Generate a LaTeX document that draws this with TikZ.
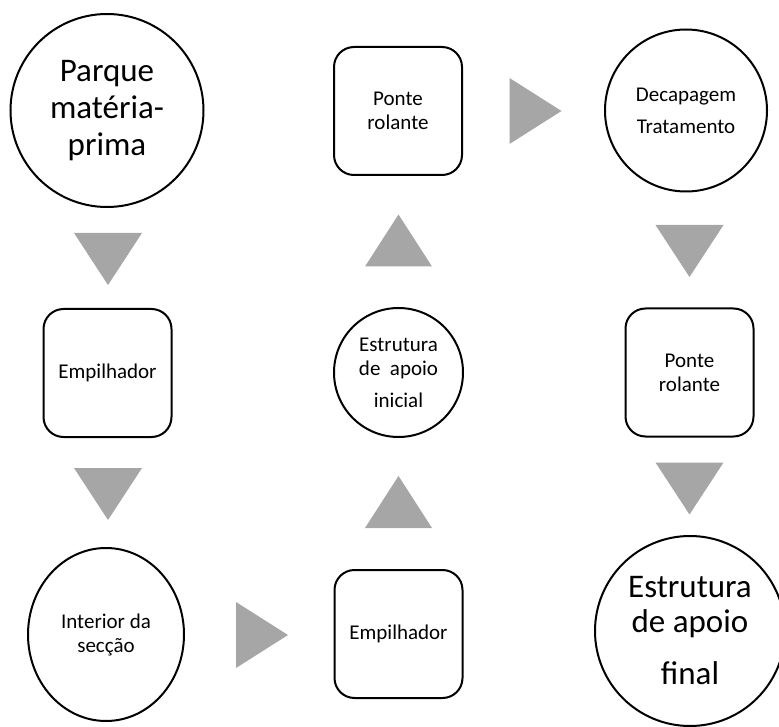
\documentclass[tikz,border=0pt]{standalone}
\usepackage{fontspec}
\setmainfont{Carlito}
\usetikzlibrary{shapes.geometric}
\definecolor{flowgray}{RGB}{166,166,166}
\tikzset{
  downtri/.pic={\fill[flowgray] (-34,-26) -- (34,-26) -- (0,26) -- cycle;},
  uptri/.pic={\fill[flowgray] (-33.5,26) -- (33.5,26) -- (0,-26) -- cycle;},
  righttri/.pic={\fill[flowgray] (-26,-33) -- (-26,33) -- (26,0) -- cycle;}
}
\begin{document}
\begin{tikzpicture}[x=1pt,y=-1pt,
  stage/.style={draw=black,line width=2pt,fill=white,align=center,inner sep=0pt,
    font=\fontsize{21}{24}\selectfont},
  roundstage/.style={stage,circle},
  ovalstage/.style={stage,ellipse},
  boxstage/.style={stage,rectangle,rounded corners=20pt,
    minimum width=128pt,minimum height=128pt},
  bigtext/.style={font=\fontsize{33}{37}\selectfont}]
\useasboundingbox (0,0) rectangle (779,727);

% first column
\node[roundstage,bigtext,minimum size=193pt] (parque) at (107,110.5)
  {Parque\\matéria-\\prima};
\node[boxstage] (emp1) at (107.5,373) {Empilhador};
\node[ovalstage,minimum width=156pt,minimum height=173pt] (interior) at (106,634.5)
  {Interior da\\secção};

% second column
\node[boxstage] (ponte1) at (398,111) {Ponte\\rolante};
\node[roundstage,minimum size=129pt] (inicial) at (398.5,372.5)
  {Estrutura\\de\ \ apoio\\[8pt]inicial};
\node[boxstage] (emp2) at (398.5,634) {Empilhador};

% third column
\node[roundstage,minimum size=162pt] (decap) at (686,110.5)
  {Decapagem\\[8pt]Tratamento};
\node[boxstage] (ponte2) at (689.5,372.5) {Ponte\\rolante};
\node[roundstage,font=\fontsize{33}{35}\selectfont,minimum size=190pt] (final) at (690,631)
  {Estrutura\\de apoio\\[17pt]final};

% flow markers
\pic at (108,259) {downtri};
\pic at (108,494) {downtri};
\pic at (262,635) {righttri};
\pic at (398.5,502) {uptri};
\pic at (398.5,240.5) {uptri};
\pic at (535.5,111) {righttri};
\pic at (689.5,251) {downtri};
\pic at (689.5,488.5) {downtri};
\end{tikzpicture}
\end{document}
